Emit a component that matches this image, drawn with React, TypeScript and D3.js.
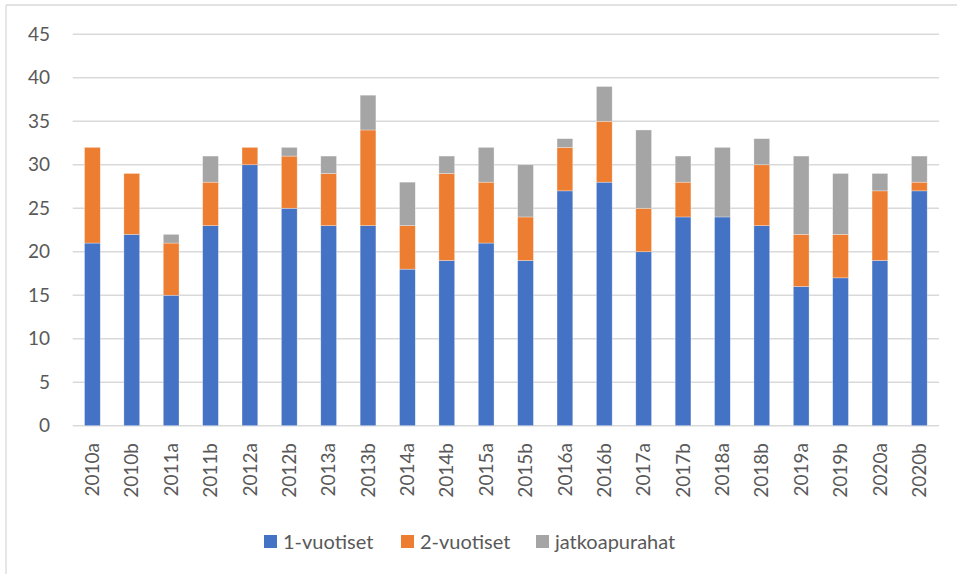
import React from 'react';
import * as d3 from 'd3';

const categories = [
  '2010a', '2010b', '2011a', '2011b', '2012a', '2012b', '2013a', '2013b',
  '2014a', '2014b', '2015a', '2015b', '2016a', '2016b', '2017a', '2017b',
  '2018a', '2018b', '2019a', '2019b', '2020a', '2020b',
];
const oneYear = [21, 22, 15, 23, 30, 25, 23, 23, 18, 19, 21, 19, 27, 28, 20, 24, 24, 23, 16, 17, 19, 27];
const twoYear = [11, 7, 6, 5, 2, 6, 6, 11, 5, 10, 7, 5, 5, 7, 5, 4, 0, 7, 6, 5, 8, 1];
const continuation = [0, 0, 1, 3, 0, 1, 2, 4, 5, 2, 4, 6, 1, 4, 9, 3, 8, 3, 9, 7, 2, 3];
const seriesNames = ['1-vuotiset', '2-vuotiset', 'jatkoapurahat'];
const colors = ['#4472C4', '#ED7D31', '#A5A5A5'];
const yTicks = [0, 5, 10, 15, 20, 25, 30, 35, 40, 45];

const W = 957;
const H = 574;
const FONT = 'Lato, "Open Sans", sans-serif';

export default function App() {
  const rows = categories.map((c, i) => ({
    cat: c,
    s0: oneYear[i],
    s1: twoYear[i],
    s2: continuation[i],
  }));
  const stacked = d3.stack<any>().keys(['s0', 's1', 's2'])(rows);

  const x = d3.scaleBand().domain(categories).range([72.7, 939]).paddingInner(0.6).paddingOuter(0.3);
  const y = d3.scaleLinear().domain([0, 45]).range([425.7, 34.3]);

  // legend item positions (square left edge)
  const legendX = [264, 401, 536];

  return (
    <svg width={W} height={H} style={{ position: 'absolute', left: 0, top: 0 }} fontFamily={FONT}>
      <rect x={0} y={0} width={W} height={H} fill="#fff" />
      {/* cut-off title */}
      <text x={545} y={-6} textAnchor="middle" fontFamily="'Liberation Serif', serif" fontWeight="bold" fontSize={16} fill="#000">y</text>
      {/* chart frame */}
      <line x1={6} x2={W} y1={5} y2={5} stroke="#d9d9d9" strokeWidth={1.3} />
      <line x1={6} x2={6} y1={5} y2={H} stroke="#d9d9d9" strokeWidth={1.3} />

      {/* gridlines */}
      {yTicks.map((t) => (
        <line key={t} x1={72.7} x2={939} y1={y(t)} y2={y(t)} stroke="#d9d9d9" strokeWidth={1.4} />
      ))}

      {/* bars */}
      {stacked.map((layer, si) => (
        <g key={si} fill={colors[si]}>
          {layer.map((d, i) =>
            d[1] - d[0] > 0 ? (
              <rect
                key={i}
                x={x(categories[i])}
                y={y(d[1])}
                width={x.bandwidth()}
                height={y(d[0]) - y(d[1])}
                stroke="#ffffff"
                strokeOpacity={0.5}
                strokeWidth={0.6}
              />
            ) : null
          )}
        </g>
      ))}

      {/* y axis labels */}
      {yTicks.map((t) => (
        <text key={t} x={50} y={y(t)} dy="0.35em" textAnchor="end" fontSize={19} fill="#595959">
          {t}
        </text>
      ))}

      {/* x axis labels */}
      {categories.map((c) => {
        const cx = (x(c) as number) + x.bandwidth() / 2;
        return (
          <text
            key={c}
            transform={`translate(${cx},443) rotate(-90)`}
            dy="0.35em"
            textAnchor="end"
            fontSize={19}
            fill="#595959"
          >
            {c}
          </text>
        );
      })}

      {/* legend */}
      {seriesNames.map((n, i) => (
        <g key={n} transform={`translate(${legendX[i]},535)`}>
          <rect x={0} y={0} width={13} height={13} fill={colors[i]} />
          <text x={19} y={6.5} dy="0.35em" fontSize={20} fill="#595959">
            {n}
          </text>
        </g>
      ))}
    </svg>
  );
}
